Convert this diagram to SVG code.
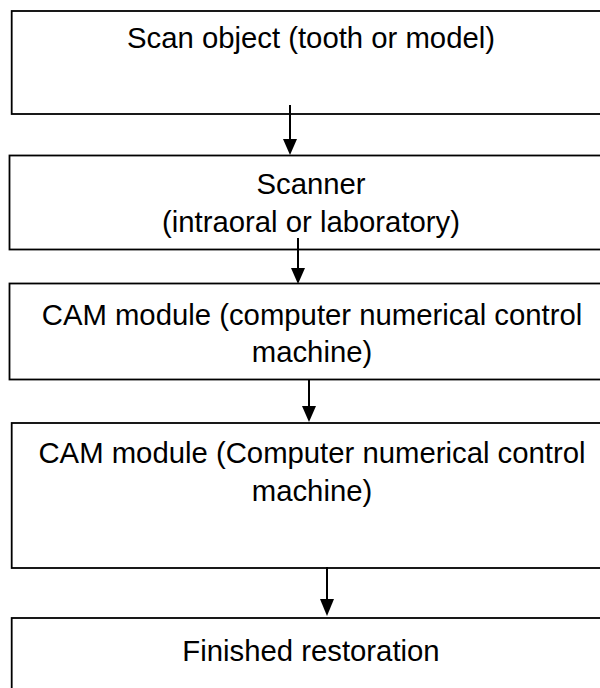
<svg xmlns="http://www.w3.org/2000/svg" width="600" height="688" viewBox="0 0 600 688">
<style>
.box{fill:#ffffff;stroke:#000000;stroke-width:1.8}
.lbl{font-family:"Liberation Sans",Arial,sans-serif;font-size:29.3px;fill:#000000;text-anchor:middle}
.con{stroke:#000000;stroke-width:2;fill:none}
.head{fill:#000000;stroke:none}
</style>
<rect width="600" height="688" fill="#ffffff"/>
<g id="node1">
<rect class="box" x="11.7" y="11" width="610" height="103"/>
<text class="lbl" x="311" y="48">Scan object (tooth or model)</text>
</g>
<g id="node2">
<rect class="box" x="9.5" y="155.5" width="612" height="94"/>
<text class="lbl" x="311" y="194">Scanner</text>
<text class="lbl" x="311" y="232">(intraoral or laboratory)</text>
</g>
<g id="node3">
<rect class="box" x="9.5" y="283.5" width="612" height="96"/>
<text class="lbl" x="312" y="325">CAM module (computer numerical control</text>
<text class="lbl" x="312" y="362">machine)</text>
</g>
<g id="node4">
<rect class="box" x="11.7" y="423" width="610" height="145"/>
<text class="lbl" x="312" y="463">CAM module (Computer numerical control</text>
<text class="lbl" x="312" y="501">machine)</text>
</g>
<g id="node5">
<rect class="box" x="11.7" y="618" width="610" height="90"/>
<text class="lbl" x="311" y="661">Finished restoration</text>
</g>
<g id="connectors">
<line class="con" x1="290" y1="105" x2="290" y2="140"/>
<polygon class="head" points="283,139 297,139 290,155"/>
<line class="con" x1="298" y1="238" x2="298" y2="269"/>
<polygon class="head" points="291,268 305,268 298,284"/>
<line class="con" x1="309" y1="380" x2="309" y2="407"/>
<polygon class="head" points="302,406 316,406 309,422"/>
<line class="con" x1="327" y1="567" x2="327" y2="600"/>
<polygon class="head" points="320,599 334,599 327,616"/>
</g>
</svg>
